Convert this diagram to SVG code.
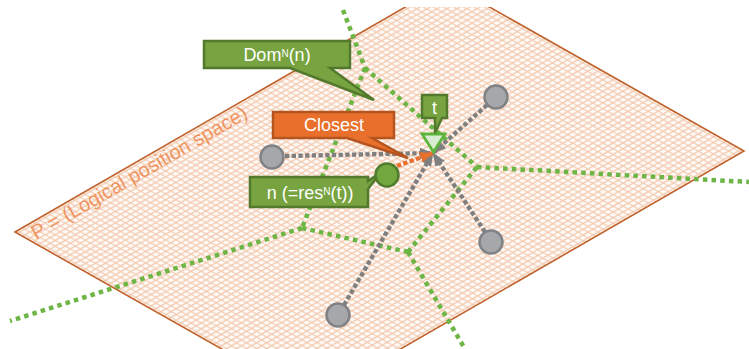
<svg xmlns="http://www.w3.org/2000/svg" width="749" height="349" viewBox="0 0 749 349">
  <style>
    .plane-edge { fill: none; stroke: #c0622c; stroke-width: 1.6; }
    .voronoi { fill: none; stroke: #6db545; stroke-width: 4.5; stroke-dasharray: 4.5 4.2; }
    .link { fill: none; stroke: #7f7f7f; stroke-width: 4.3; stroke-dasharray: 4.3 2.4; }
    .link-closest { fill: none; stroke: #e8702c; stroke-width: 4.3; stroke-dasharray: 4.3 2.4; }
    .peer { fill: #a6a7aa; stroke: #818285; stroke-width: 2.5; }
    .self { fill: #72a83f; stroke: #527c2d; stroke-width: 2.5; }
    .call-green { fill: #77a340; stroke: #52792c; stroke-width: 2.5; stroke-linejoin: miter; }
    .call-orange { fill: #e8702c; stroke: #b5541f; stroke-width: 2.5; stroke-linejoin: miter; }
    .label { font-family: "Liberation Sans", Arial, sans-serif; font-size: 18px; fill: #ffffff; text-anchor: middle; }
    .sup { font-size: 10px; }
    .plane-label { font-family: "Liberation Sans", Arial, sans-serif; font-size: 20px; fill: #ec7e3e; fill-opacity: 0.78; }
  </style>
  <defs>
    <!-- rhombic mesh aligned with the plane edges -->
    <pattern id="mesh" patternUnits="userSpaceOnUse" width="10" height="10"
             patternTransform="matrix(0.502 -0.2895 0.5034 0.2847 15 232)">
      <path d="M0 5H10M5 0V10" stroke="#f3c8ac" stroke-width="2.2" fill="none"/>
    </pattern>
    <clipPath id="frame">
      <rect x="0" y="7" width="749" height="342"/>
    </clipPath>
    <marker id="head-gray" markerUnits="userSpaceOnUse" markerWidth="13" markerHeight="11" refX="13" refY="5.5" orient="auto">
      <path d="M0 0L13 5.5L0 11Z" fill="#7f7f7f"/>
    </marker>
    <marker id="head-orange" markerUnits="userSpaceOnUse" markerWidth="13" markerHeight="11" refX="13" refY="5.5" orient="auto">
      <path d="M0 0L13 5.5L0 11Z" fill="#e8702c"/>
    </marker>
  </defs>

  <rect width="749" height="349" fill="#ffffff"/>

  <!-- logical position space -->
  <g id="plane" clip-path="url(#frame)">
    <polygon points="15,232 447,-17 744,151 312,400" fill="#fdfaf8"/>
    <polygon points="15,232 447,-17 744,151 312,400" fill="url(#mesh)"/>
    <polygon class="plane-edge" points="15,232 447,-17 744,151 312,400"/>
    <text class="plane-label" x="36" y="240" transform="rotate(-30 36 240)">P = (Logical position space)</text>
  </g>

  <!-- domain boundaries -->
  <g id="voronoi">
    <path class="voronoi" d="M343,10 L365,68"/>
    <path class="voronoi" d="M365,68 L302,228"/>
    <path class="voronoi" d="M365,68 L477,167"/>
    <path class="voronoi" d="M302,228 L10,321"/>
    <path class="voronoi" d="M302,228 L408,252"/>
    <path class="voronoi" d="M408,252 L477,167"/>
    <path class="voronoi" d="M477,167 L749,182"/>
    <path class="voronoi" d="M408,252 L465,349"/>
  </g>

  <!-- distances from each node to the target -->
  <g id="connectors">
    <path class="link" d="M285,156 L433,153" marker-end="url(#head-gray)"/>
    <path class="link" d="M487,105 L433,153" marker-end="url(#head-gray)"/>
    <path class="link" d="M485,232 L433,153" marker-end="url(#head-gray)"/>
    <path class="link" d="M344,305 L433,153" marker-end="url(#head-gray)"/>
    <path class="link-closest" d="M397,166 L433,153" marker-end="url(#head-orange)"/>
  </g>

  <g id="node-w"><circle class="peer" cx="272" cy="157" r="11.5"/></g>
  <g id="node-ne"><circle class="peer" cx="496" cy="97" r="11.5"/></g>
  <g id="node-se"><circle class="peer" cx="491" cy="242" r="11.5"/></g>
  <g id="node-s"><circle class="peer" cx="338" cy="315" r="11.5"/></g>

  <g id="target">
    <polygon points="422,134 445,134 433.5,152" fill="#d7ecd2" stroke="#5cb43c" stroke-width="2.8" stroke-linejoin="miter"/>
  </g>

  <g id="callout-n">
    <path class="call-green" d="M250,177 H368 V181 L381,172 L368,189 V207 H250 Z"/>
    <text class="label" x="310" y="199">n (=res<tspan class="sup" dy="-4">N</tspan><tspan dy="4">(t))</tspan></text>
  </g>

  <g id="node-n"><circle class="self" cx="387" cy="175" r="11.5"/></g>

  <g id="callout-dom">
    <path class="call-green" d="M204,41 H350 V68 H330 L374,100 L290,68 H204 Z"/>
    <text class="label" x="277" y="61">Dom<tspan class="sup" dy="-4">N</tspan><tspan dy="4">(n)</tspan></text>
  </g>

  <g id="callout-closest">
    <path class="call-orange" d="M273,112 H394 V138 H372 L408,158 L347,138 H273 Z"/>
    <text class="label" x="334" y="131">Closest</text>
  </g>

  <g id="callout-t">
    <path class="call-green" d="M422,95 H447 V118 H442 L435,133 L435,118 H422 Z"/>
    <text class="label" x="434.5" y="114">t</text>
  </g>
</svg>
